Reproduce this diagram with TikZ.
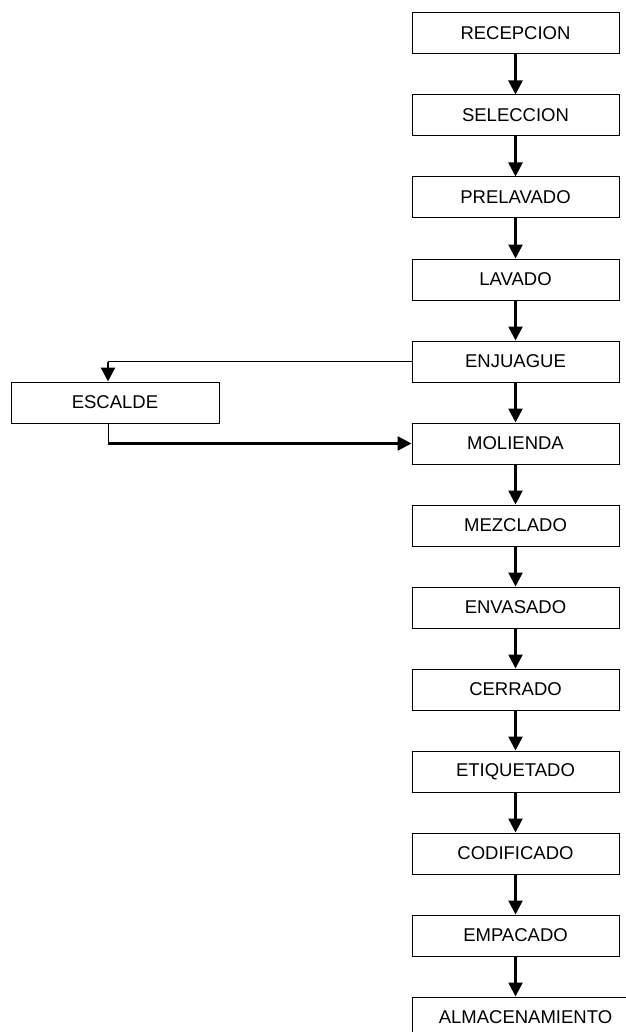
\documentclass[tikz,border=0pt]{standalone}
\usepackage{fontspec}
\setmainfont{Liberation Sans}
\usetikzlibrary{arrows.meta,positioning}

\begin{document}
\begin{tikzpicture}[x=1pt, y=-1pt,
    box/.style={rectangle, draw, line width=1pt, minimum width=207pt,
                minimum height=41pt, inner sep=0pt, align=center,
                font=\fontsize{18.5}{21}\selectfont},
    arr/.style={-{Triangle[length=14pt,width=14pt]}, line width=2.6pt},
    lin/.style={line width=1pt},
  ]
  \useasboundingbox (0,0) rectangle (625,1032);

  % Main line
  \node[box] (recep) at (515.5, 33.5) {RECEPCION};
  \node[box] (selec) at (515.5, 115.5) {SELECCION};
  \node[box] (prelav) at (515.5, 197.5) {PRELAVADO};
  \node[box] (lavado) at (515.5, 279.5) {LAVADO};
  \node[box] (enjuague) at (515.5, 361.5) {ENJUAGUE};
  \node[box] (molienda) at (515.5, 443.5) {MOLIENDA};
  \node[box] (mezcla) at (515.5, 525.5) {MEZCLADO};
  \node[box] (envasado) at (515.5, 607.5) {ENVASADO};
  \node[box] (cerrado) at (515.5, 689.5) {CERRADO};
  \node[box] (etiq) at (515.5, 771.5) {ETIQUETADO};
  \node[box] (codif) at (515.5, 853.5) {CODIFICADO};
  \node[box] (empacado) at (515.5, 935.5) {EMPACADO};
  \node[box, minimum width=227pt] (almacen) at (525.5, 1017.5) {ALMACENAMIENTO};

  % Side branch
  \node[box, minimum width=208pt] (escalde) at (115, 402.5) {ESCALDE};
  \coordinate (split) at (108, 361.5);
  \coordinate (join) at (108, 443.5);

  % Arrows
  \draw[arr] (recep) -- (selec);
  \draw[arr] (selec) -- (prelav);
  \draw[arr] (prelav) -- (lavado);
  \draw[arr] (lavado) -- (enjuague);
  \draw[arr] (enjuague) -- (molienda);
  \draw[arr] (molienda) -- (mezcla);
  \draw[arr] (mezcla) -- (envasado);
  \draw[arr] (envasado) -- (cerrado);
  \draw[arr] (cerrado) -- (etiq);
  \draw[arr] (etiq) -- (codif);
  \draw[arr] (codif) -- (empacado);
  \draw[arr] (empacado.south) -- (empacado.south |- almacen.north);

  \draw[lin] (enjuague.west) -- (split);
  \draw[arr] (split) -- (split |- escalde.north);
  \draw[lin] (split |- escalde.south) -- (join);
  \draw[arr] (join) -- (molienda.west);

\end{tikzpicture}
\end{document}
